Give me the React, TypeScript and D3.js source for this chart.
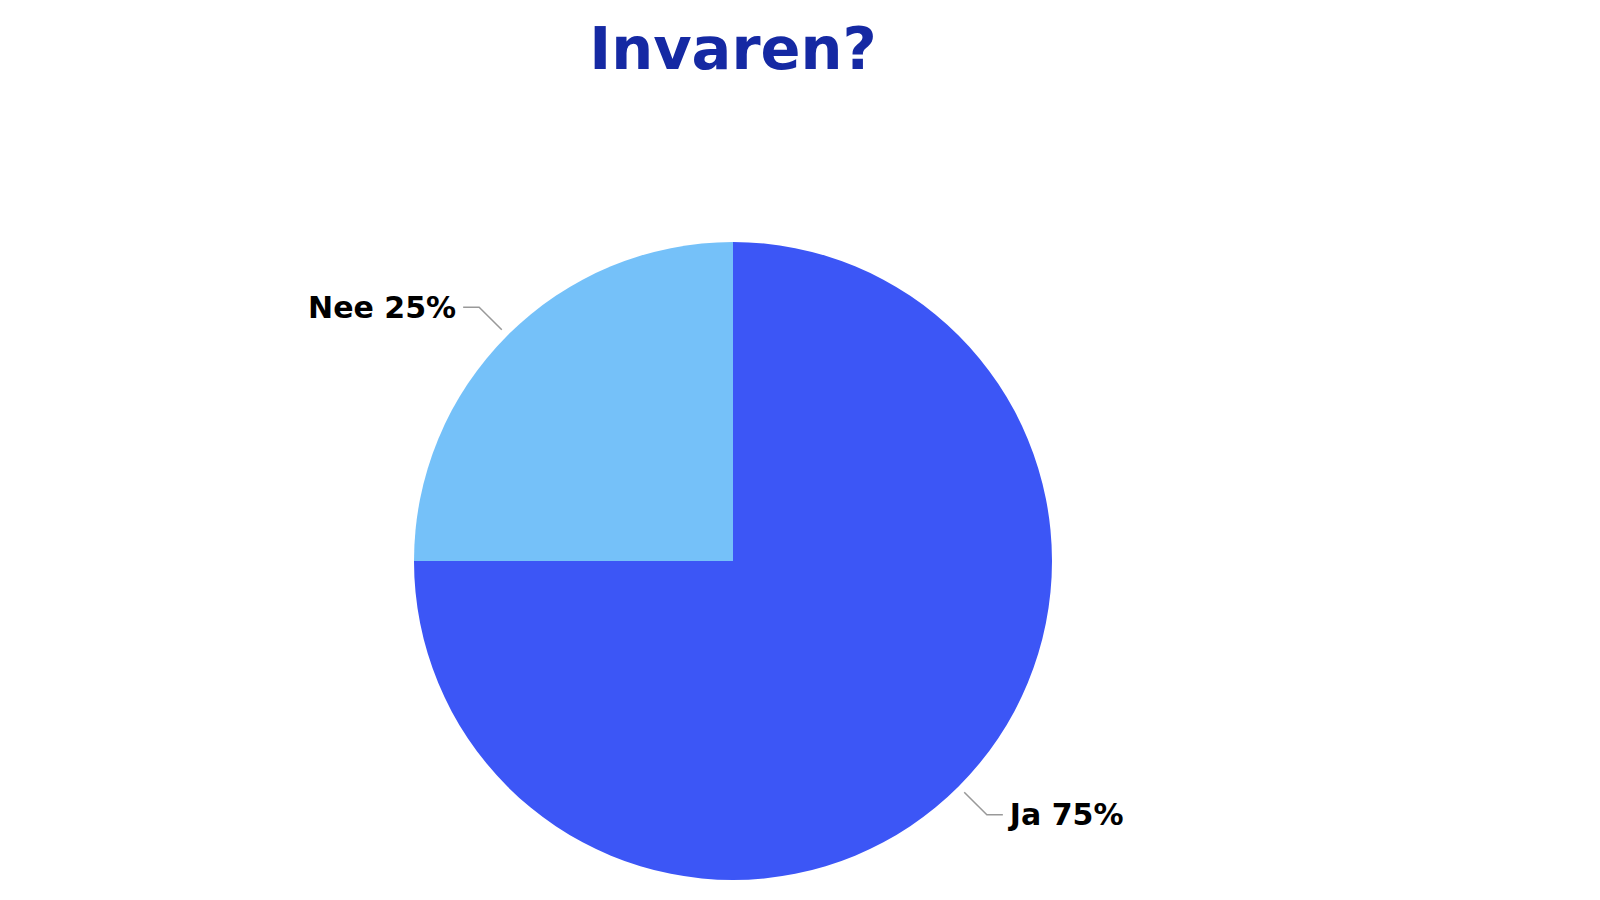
import { useEffect, useRef } from 'react';
import * as d3 from 'd3';

const categories = ['Ja', 'Nee'];
const values = [75, 25];
const sliceColors = ['#3c56f6', '#75c1f9'];
const chartTitle = 'Invaren?';

interface Slice {
  label: string;
  value: number;
  color: string;
}

const slices: Slice[] = categories.map((label, i) => ({
  label,
  value: values[i],
  color: sliceColors[i],
}));

const FONT = "'DejaVu Sans', Verdana, sans-serif";

export default function App() {
  const svgRef = useRef<SVGSVGElement>(null);
  const width = 1600;
  const height = 900;

  useEffect(() => {
    if (!svgRef.current) return;
    const svg = d3.select(svgRef.current);
    svg.selectAll('*').remove();

    const cx = 733;
    const cy = 561;
    const radius = 319;

    svg
      .append('text')
      .attr('x', cx)
      .attr('y', 69)
      .attr('text-anchor', 'middle')
      .attr('fill', '#1529a3')
      .attr('font-size', 59)
      .attr('font-weight', 'bold')
      .attr('font-family', FONT)
      .text(chartTitle);

    const total = d3.sum(slices, (d) => d.value);
    const pie = d3
      .pie<Slice>()
      .sort(null)
      .value((d) => d.value);
    const arcs = pie(slices);

    const arc = d3.arc<d3.PieArcDatum<Slice>>().innerRadius(0).outerRadius(radius);

    const chart = svg.append('g').attr('transform', `translate(${cx},${cy})`);

    chart
      .selectAll('path.slice')
      .data(arcs)
      .join('path')
      .attr('class', 'slice')
      .attr('fill', (d) => d.data.color)
      .attr('d', arc);

    // leader lines + labels
    const labels = chart.append('g');
    arcs.forEach((d) => {
      const mid = (d.startAngle + d.endAngle) / 2;
      const sx = Math.sin(mid);
      const sy = -Math.cos(mid);
      const side = sx >= 0 ? 1 : -1;
      const p0 = [sx * (radius + 8), sy * (radius + 8)];
      const p1 = [sx * (radius + 40), sy * (radius + 40)];
      const p2 = [p1[0] + side * 16, p1[1]];

      labels
        .append('polyline')
        .attr('points', [p0, p1, p2].map((p) => p.join(',')).join(' '))
        .attr('fill', 'none')
        .attr('stroke', '#999999')
        .attr('stroke-width', 1.5);

      labels
        .append('text')
        .attr('x', p2[0] + side * 7)
        .attr('y', p2[1] + 10.5)
        .attr('text-anchor', side > 0 ? 'start' : 'end')
        .attr('fill', '#000000')
        .attr('font-size', 30)
        .attr('font-weight', 'bold')
        .attr('font-family', FONT)
        .text(`${d.data.label} ${Math.round((d.data.value / total) * 100)}%`);
    });
  }, []);

  return (
    <svg
      ref={svgRef}
      width={width}
      height={height}
      viewBox={`0 0 ${width} ${height}`}
      style={{ position: 'absolute', left: 0, top: 0, background: '#ffffff' }}
    />
  );
}
